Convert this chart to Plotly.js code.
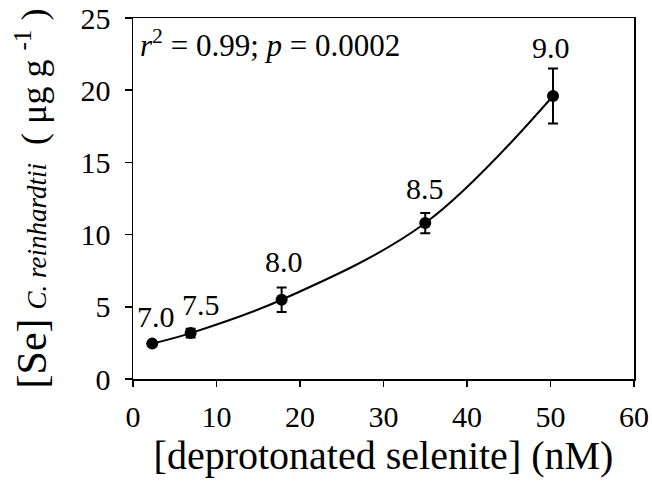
<!DOCTYPE html>
<html>
<head>
<meta charset="utf-8">
<script src="https://cdn.plot.ly/plotly-3.0.1.min.js"></script>
<style>
  html, body { margin: 0; padding: 0; background: #fff; }
  #chart { width: 652px; height: 487px; }
</style>
</head>
<body>
<div id="chart"></div>
<script>
// ---- data ----
var selenite = [2.3, 6.9, 17.8, 35.0, 50.3];          // [deprotonated selenite] (nM)
var seCell   = [2.45, 3.18, 5.49, 10.8, 19.6];        // [Se] C. reinhardtii (µg g-1)
var seErr    = [0.1, 0.3, 0.85, 0.7, 1.9];            // error bars
var pHLabels = ['7.0', '7.5', '8.0', '8.5', '9.0'];   // pH of each point
var xTicks   = [0, 10, 20, 30, 40, 50, 60];
var yTicks   = [0, 5, 10, 15, 20, 25];
var statText = '<i>r</i><sup>2</sup> = 0.99; <i>p</i> = 0.0002';

// ---- styling ----
var FONT = 'Liberation Serif';
var labelShift = [[4, 27], [10, 29], [2, 38], [0, 35], [-2, 48]]; // pixel offsets of pH labels

// fitted curve drawn on overlay axes (same scales) so those axes carry the tick marks
var fitTrace = {
  x: selenite, y: seCell, xaxis: 'x2', yaxis: 'y2',
  mode: 'lines', type: 'scatter',
  line: { color: '#000', width: 2, shape: 'spline', smoothing: 1 },
  hoverinfo: 'skip', showlegend: false
};
var pointTrace = {
  x: selenite, y: seCell,
  mode: 'markers', type: 'scatter',
  marker: { color: '#000', size: 12 },
  error_y: { type: 'data', array: seErr, visible: true, color: '#000', thickness: 2, width: 5 },
  showlegend: false
};

var annotations = pHLabels.map(function (t, i) {
  return {
    x: selenite[i], y: seCell[i], xref: 'x', yref: 'y',
    text: t, showarrow: false,
    xshift: labelShift[i][0], yshift: labelShift[i][1],
    font: { family: FONT, size: 30, color: '#000' }
  };
});
annotations.push({
  x: 0.01, y: 0.93, xref: 'paper', yref: 'paper',
  xanchor: 'left', yanchor: 'middle',
  text: statText, showarrow: false,
  font: { family: FONT, size: 31, color: '#000' }
});

var CLEAR = 'rgba(0,0,0,0)';
var layout = {
  width: 652, height: 487,
  margin: { l: 133, r: 18, t: 18, b: 108 },
  paper_bgcolor: '#fff', plot_bgcolor: '#fff',
  font: { family: FONT, color: '#000', size: 30 },
  showlegend: false,
  // label axes (transparent long ticks only set the label distance)
  xaxis: {
    range: [0, 60], tickvals: xTicks, ticktext: xTicks.map(String),
    showgrid: false, zeroline: false,
    showline: true, linecolor: '#000', linewidth: 1.5, mirror: true,
    ticks: 'outside', ticklen: 10, tickwidth: 1.5, tickcolor: CLEAR,
    tickfont: { family: FONT, size: 30, color: '#000' },
    title: { text: '[deprotonated selenite] (nM)', font: { family: FONT, size: 40, color: '#000' }, standoff: 6 }
  },
  yaxis: {
    range: [0, 25], tickvals: yTicks, ticktext: yTicks.map(String),
    showgrid: false, zeroline: false,
    showline: true, linecolor: '#000', linewidth: 1.5, mirror: true,
    ticks: 'outside', ticklen: 15, tickwidth: 1.5, tickcolor: CLEAR,
    tickfont: { family: FONT, size: 30, color: '#000' },
    title: {
      text: "<span style='font-size:42px'>[Se]</span> <i><span style='font-size:27px'>C. reinhardtii</span></i>  ( μg g <sup>-1</sup> )",
      font: { family: FONT, size: 36, color: '#000' }, standoff: 23
    }
  },
  // tick-mark axes overlaid on the same scales
  xaxis2: {
    overlaying: 'x', anchor: 'y', side: 'bottom', range: [0, 60],
    tickvals: xTicks, showticklabels: false,
    showgrid: false, zeroline: false, showline: false,
    ticks: 'outside', ticklen: 7, tickwidth: 1.5, tickcolor: '#000'
  },
  yaxis2: {
    overlaying: 'y', anchor: 'x', side: 'left', range: [0, 25],
    tickvals: yTicks, showticklabels: false,
    showgrid: false, zeroline: false, showline: false,
    ticks: 'outside', ticklen: 7, tickwidth: 1.5, tickcolor: '#000'
  },
  annotations: annotations
};

Plotly.newPlot('chart', [fitTrace, pointTrace], layout, { displayModeBar: false, staticPlot: true });
</script>
</body>
</html>
